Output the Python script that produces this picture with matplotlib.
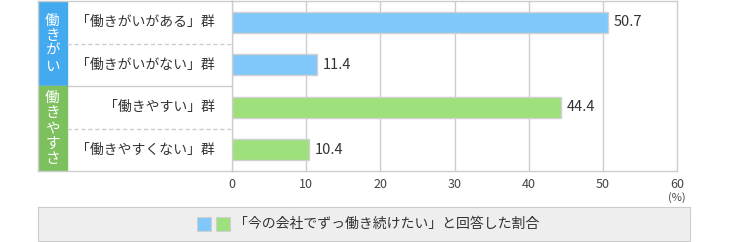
import numpy as np
import matplotlib.pyplot as plt
from matplotlib.patches import Rectangle

plt.rcParams['font.family'] = ['Noto Sans CJK JP', 'DejaVu Sans']

# Data
labels = ['「働きがいがある」群', '「働きがいがない」群', '「働きやすい」群', '「働きやすくない」群']
values = [50.7, 11.4, 44.4, 10.4]
groups = ['働きがい', '働きやすさ']
group_rows = [[0, 1], [2, 3]]
xticks = [0, 10, 20, 30, 40, 50, 60]
legend_text = '「今の会社でずっ働き続けたい」と回答した割合'

bar_colors = ['#80c8fa', '#80c8fa', '#9de07c', '#9de07c']
strip_colors = ['#43aaf0', '#7dc15f']
grid_c = '#cccccc'
text_c = '#333333'

W, H = 730, 242
fig = plt.figure(figsize=(W / 100, H / 100), dpi=100)

top, bottom = 1, 171
ax = fig.add_axes([232 / W, 1 - bottom / H, 445 / W, (bottom - top) / H])
n = len(labels)
y = np.arange(n)
ax.set_xlim(0, 60)
ax.set_ylim(n - 0.5, -0.5)
ax.barh(y, values, height=0.49, color=bar_colors, edgecolor='#d0d0d0', linewidth=1, zorder=3)
for yi, v in zip(y, values):
    ax.text(v + 0.8, yi, f'{v:.1f}', va='center', ha='left', fontsize=10.5, color=text_c)
ax.set_xticks(xticks)
ax.set_xticklabels([str(t) for t in xticks], fontsize=9, color='#444444')
ax.tick_params(axis='x', length=0, pad=5)
ax.set_yticks([])
for t in xticks[1:-1]:
    ax.axvline(t, color=grid_c, lw=1, zorder=1)
for s in ax.spines.values():
    s.set_color(grid_c)
    s.set_linewidth(1)
fig.text(677 / W, 1 - 198 / H, '(%)', ha='center', va='center', fontsize=8, color='#444444')

# Label panel
lx = fig.add_axes([38 / W, 1 - bottom / H, 194 / W, (bottom - top) / H])
lx.set_xlim(0, 194)
lx.set_ylim(n - 0.5, -0.5)
lx.set_xticks([])
lx.set_yticks([])
for s in lx.spines.values():
    s.set_color(grid_c)
    s.set_linewidth(1)
strip_w = 29
for gname, rows, c in zip(groups, group_rows, strip_colors):
    y0, y1 = rows[0] - 0.5, rows[-1] + 0.5
    lx.add_patch(Rectangle((0, y0), strip_w, y1 - y0, color=c, zorder=2))
    lx.text(strip_w / 2, (y0 + y1) / 2, '\n'.join(gname), ha='center', va='center',
            color='white', fontsize=10.5, linespacing=1.12, zorder=3)
    for r in rows[:-1]:
        lx.plot([strip_w, 194], [r + 0.5, r + 0.5], color=grid_c, lw=1, ls=(0, (3, 2)))
    if rows[-1] < n - 1:
        lx.plot([0, 194], [y1, y1], color=grid_c, lw=1)
for yi, lab in zip(y, labels):
    lx.text(177, yi, lab, ha='right', va='center', fontsize=10, color=text_c)

# Legend box
lg = fig.add_axes([38 / W, 1 - 241 / H, 652 / W, 34 / H])
lg.set_xlim(0, 652)
lg.set_ylim(34, 0)
lg.set_facecolor('#eeeeee')
lg.set_xticks([])
lg.set_yticks([])
for s in lg.spines.values():
    s.set_color(grid_c)
for x0, c in zip([159, 178], bar_colors[1:3]):
    lg.add_patch(Rectangle((x0, 10), 14, 14, color=c, ec='#d0d0d0', lw=0.8))
lg.text(196, 17, legend_text, ha='left', va='center', fontsize=10, color=text_c)

fig.savefig('out.png', dpi=100)
